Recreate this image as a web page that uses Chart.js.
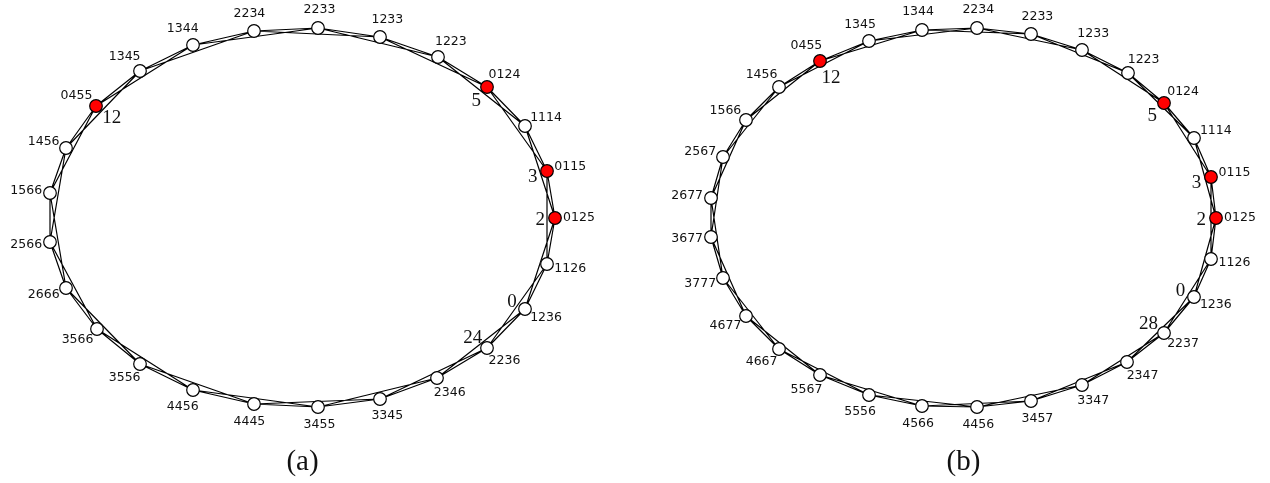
<!DOCTYPE html>
<html>
<head>
<meta charset="utf-8">
<script src="https://cdn.jsdelivr.net/npm/chart.js@4.4.0/dist/chart.umd.min.js"></script>
<style>
  html, body { margin: 0; padding: 0; background: #fff; }
  #graph { display: block; }
</style>
</head>
<body>
<canvas id="graph" width="1270" height="483"></canvas>
<script>
// ---- panel (a): nodes in ring order, clockwise from the top ----
const namesA = ["2233", "1233", "1223", "0124", "1114", "0115", "0125", "1126", "1236", "2236", "2346", "3345", "3455",
  "4445", "4456", "3556", "3566", "2666", "2566", "1566", "1456", "0455", "1345", "1344", "2234"];
const xA = [318, 380, 438, 487, 525, 547, 555, 547, 525, 487, 437, 380, 318, 254, 193, 140, 97, 66, 50, 50, 66, 96, 140, 193, 254];
const yA = [28, 37, 57, 87, 126, 171, 218, 264, 309, 348, 378, 399, 407, 404, 390, 364, 329, 288, 242, 193, 148, 106, 71, 45, 31];
const redA = ["0124", "0115", "0125", "0455"];
const markedA = ["0124", "0115", "0125", "1236", "2236", "0455"];
const marksA = ["5", "3", "2", "0", "24", "12"];
const stepsA = [1, 2];

// ---- panel (b) ----
const namesB = ["2234", "2233", "1233", "1223", "0124", "1114", "0115", "0125", "1126", "1236", "2237", "2347", "3347",
  "3457", "4456", "4566", "5556", "5567", "4667", "4677", "3777", "3677", "2677", "2567", "1566", "1456", "0455", "1345", "1344"];
const xB = [977, 1031, 1082, 1128, 1164, 1194, 1211, 1216, 1211, 1194, 1164, 1127, 1082, 1031, 977, 922, 869, 820, 779, 746, 723, 711, 711, 723, 746, 779, 820, 869, 922];
const yB = [28, 34, 50, 73, 103, 138, 177, 218, 259, 297, 333, 362, 385, 401, 407, 406, 395, 375, 349, 316, 278, 237, 198, 157, 120, 87, 61, 41, 30];
const redB = ["0124", "0115", "0125", "0455"];
const markedB = ["0124", "0115", "0125", "1236", "2237", "0455"];
const marksB = ["5", "3", "2", "0", "28", "12"];
const stepsB = [1, 2];

const captions = ["(a)", "(b)"];

const panels = [
  { names: namesA, x: xA, y: yA, red: redA, marked: markedA, marks: marksA, steps: stepsA, caption: captions[0] },
  { names: namesB, x: xB, y: yB, red: redB, marked: markedB, marks: marksB, steps: stepsB, caption: captions[1] },
];

// edges join every node to the next ones round the ring
function ringEdges(p) {
  const pts = [];
  const n = p.names.length;
  for (let i = 0; i < n; i++) {
    p.steps.forEach((s) => {
      const j = (i + s) % n;
      pts.push({ x: p.x[i], y: p.y[i] });
      pts.push({ x: p.x[j], y: p.y[j] });
      pts.push({ x: null, y: null });
    });
  }
  return pts;
}

function nodePoints(p) {
  return p.names.map((name, i) => ({ x: p.x[i], y: p.y[i] }));
}

function ellipseOf(p) {
  const minX = Math.min(...p.x), maxX = Math.max(...p.x);
  const minY = Math.min(...p.y), maxY = Math.max(...p.y);
  return { cx: (minX + maxX) / 2, cy: (minY + maxY) / 2, ax: (maxX - minX) / 2, ay: (maxY - minY) / 2 };
}

const datasets = [];
panels.forEach((p) => {
  datasets.push({
    data: nodePoints(p),
    order: 0,
    showLine: false,
    pointRadius: 6.3,
    pointHoverRadius: 6.3,
    pointBorderWidth: 1.2,
    pointBorderColor: "#000",
    pointBackgroundColor: p.names.map((n) => (p.red.includes(n) ? "#ff0000" : "#ffffff")),
  });
  datasets.push({
    data: ringEdges(p),
    order: 1,
    showLine: true,
    spanGaps: false,
    borderColor: "#000",
    borderWidth: 1.2,
    pointRadius: 0,
    pointHoverRadius: 0,
  });
});

// node names, counts and captions
const labelPlugin = {
  id: "nodeLabels",
  afterDatasetsDraw(chart) {
    const ctx = chart.ctx;
    const sx = chart.scales.x;
    const sy = chart.scales.y;
    ctx.save();
    ctx.textAlign = "center";
    ctx.textBaseline = "middle";
    ctx.fillStyle = "#111";
    panels.forEach((p) => {
      const e = ellipseOf(p);
      p.names.forEach((name, i) => {
        let nx = (p.x[i] - e.cx) / e.ax;
        let ny = (p.y[i] - e.cy) / e.ay;
        const len = Math.hypot(nx, ny) || 1;
        nx /= len;
        ny /= len;
        const px = sx.getPixelForValue(p.x[i]);
        const py = sy.getPixelForValue(p.y[i]);
        ctx.font = "12.5px 'DejaVu Sans'";
        ctx.fillText(name, px + nx * 24, py + ny * 18);
        const k = p.marked.indexOf(name);
        if (k >= 0) {
          ctx.font = "19px 'Liberation Serif'";
          const w = ctx.measureText(p.marks[k]).width;
          ctx.fillText(p.marks[k], px - nx * (10 + w / 2), py - ny * 18 + 2);
        }
      });
      ctx.font = "29px 'Liberation Serif'";
      ctx.fillText(p.caption, sx.getPixelForValue(e.cx), 462);
    });
    ctx.restore();
  },
};

new Chart(document.getElementById("graph").getContext("2d"), {
  type: "scatter",
  data: { datasets: datasets },
  options: {
    responsive: false,
    animation: false,
    clip: false,
    layout: { padding: 0, autoPadding: false },
    plugins: { legend: { display: false }, tooltip: { enabled: false } },
    scales: {
      x: { type: "linear", min: 0, max: 1270, display: false },
      y: { type: "linear", min: 0, max: 483, reverse: true, display: false },
    },
  },
  plugins: [labelPlugin],
});
</script>
</body>
</html>
